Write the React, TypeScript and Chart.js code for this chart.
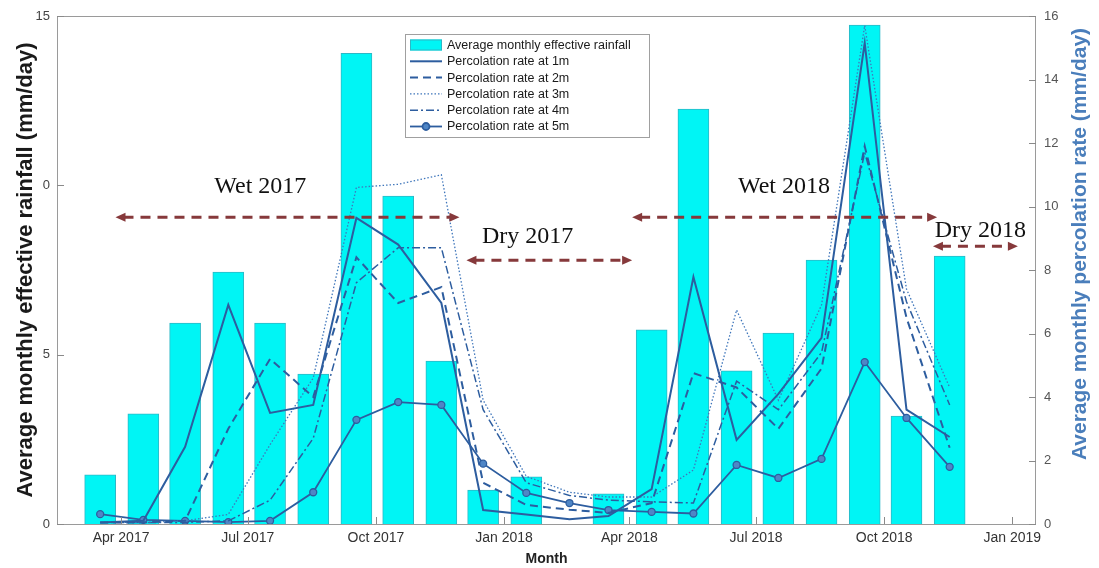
import React, { useEffect, useRef } from 'react';
import { Chart, registerables } from 'chart.js';

Chart.register(...registerables);

// ---------- data ----------
const months = [
  '2017-03', '2017-04', '2017-05', '2017-06', '2017-07', '2017-08', '2017-09',
  '2017-10', '2017-11', '2017-12', '2018-01', '2018-02', '2018-03', '2018-04',
  '2018-05', '2018-06', '2018-07', '2018-08', '2018-09', '2018-10', '2018-11',
];
const rainfall = [1.45, 3.25, 5.93, 7.44, 5.93, 4.43, 13.9, 9.68, 4.81, 1.0, 1.39, 0, 0.89, 5.73, 12.25, 4.52, 5.64, 7.79, 14.73, 3.19, 7.91];
const perc1m = [0.05, 0.1, 2.43, 6.9, 3.5, 3.75, 9.64, 8.8, 6.96, 0.44, 0.3, 0.15, 0.25, 1.1, 7.78, 2.65, 4.1, 5.86, 15.15, 3.6, 2.74];
const perc2m = [0.05, 0.05, 0.1, 3.0, 5.2, 4.0, 8.4, 6.96, 7.46, 1.3, 0.6, 0.45, 0.35, 0.66, 4.75, 4.3, 3.0, 4.9, 11.9, 6.5, 2.4];
const perc3m = [0.05, 0.05, 0.1, 0.3, 2.5, 4.6, 10.6, 10.7, 11.0, 3.9, 1.5, 1.0, 0.85, 0.85, 1.7, 6.74, 3.9, 6.9, 15.7, 7.4, 4.3];
const perc4m = [0.05, 0.05, 0.05, 0.1, 0.75, 2.7, 7.6, 8.7, 8.7, 3.6, 1.3, 0.9, 0.75, 0.7, 0.66, 4.5, 3.6, 5.4, 11.7, 7.0, 3.75];
const perc5m = [0.31, 0.13, 0.1, 0.06, 0.1, 1.0, 3.28, 3.84, 3.75, 1.9, 0.98, 0.66, 0.44, 0.38, 0.33, 1.86, 1.45, 2.05, 5.1, 3.34, 1.8];

const xTickLabels = ['Apr 2017', 'Jul 2017', 'Oct 2017', 'Jan 2018', 'Apr 2018', 'Jul 2018', 'Oct 2018', 'Jan 2019'];
const xTickDates = ['2017-04-01', '2017-07-01', '2017-10-01', '2018-01-01', '2018-04-01', '2018-07-01', '2018-10-01', '2019-01-01'];
const leftTickValues = [0, 5, 10, 15];
const leftTickLabels = ['0', '5', '0', '15'];
const rightTickValues = [0, 2, 4, 6, 8, 10, 12, 14, 16];

const seasonLabels = ['Wet 2017', 'Dry 2017', 'Wet 2018', 'Dry 2018'];
const seasonFrom = ['2017-03-28', '2017-12-05', '2018-04-03', '2018-11-05'];
const seasonTo = ['2017-11-30', '2018-04-03', '2018-11-08', '2019-01-05'];
const seasonArrowY = [9.06, 7.79, 9.06, 8.2];
const seasonTextAt = ['2017-07-10', '2018-01-18', '2018-07-21', '2018-12-09'];
const seasonTextY = [9.95, 8.47, 9.95, 8.65];

const legendLabels = [
  'Average monthly effective rainfall',
  'Percolation rate at 1m',
  'Percolation rate at 2m',
  'Percolation rate at 3m',
  'Percolation rate at 4m',
  'Percolation rate at 5m',
];

// ---------- helpers ----------
const DAY0 = Date.UTC(2017, 3, 1);
const toDay = (s: string) => (Date.parse(s + 'T00:00:00Z') - DAY0) / 864e5;
const barDays = months.map((m) => toDay(m + '-17'));
const pts = (vals: number[]) => vals.map((v, i) => ({ x: barDays[i], y: v }));

const LINE = '#2d5d9f';
const LINE_LIGHT = '#3f76bb';
const ARROW = '#86393b';
const BAR = '#00f5f5';
const BAR_EDGE = '#2cb8c6';
const SANS = '"Liberation Sans", Arial, Helvetica, sans-serif';
const SERIF = '"Liberation Serif", "Times New Roman", serif';

const lineStyles = [
  { dash: [] as number[], width: 2, color: LINE, marker: false },
  { dash: [8, 5], width: 2, color: LINE, marker: false },
  { dash: [1.5, 2], width: 1.3, color: LINE_LIGHT, marker: false },
  { dash: [8, 3, 2, 3], width: 1.5, color: LINE, marker: false },
  { dash: [] as number[], width: 1.8, color: LINE, marker: true },
];

const decor = {
  id: 'decor',
  afterDatasetsDraw(chart: any) {
    const { ctx, chartArea: a, scales } = chart;
    const sx = scales.x;
    const sy = scales.y;
    const sy1 = scales.y1;
    ctx.save();

    // season annotations
    for (let i = 0; i < seasonLabels.length; i++) {
      const x1 = sx.getPixelForValue(toDay(seasonFrom[i]));
      const x2 = sx.getPixelForValue(toDay(seasonTo[i]));
      const yy = sy.getPixelForValue(seasonArrowY[i]);
      ctx.strokeStyle = ARROW;
      ctx.fillStyle = ARROW;
      ctx.lineWidth = 3;
      ctx.setLineDash([10, 7]);
      ctx.beginPath();
      ctx.moveTo(x1 + 8, yy);
      ctx.lineTo(x2 - 8, yy);
      ctx.stroke();
      ctx.setLineDash([]);
      const head = (x: number, dir: number) => {
        ctx.beginPath();
        ctx.moveTo(x, yy);
        ctx.lineTo(x - dir * 10, yy - 4.5);
        ctx.lineTo(x - dir * 10, yy + 4.5);
        ctx.closePath();
        ctx.fill();
      };
      head(x1, -1);
      head(x2, 1);
      ctx.fillStyle = '#111';
      ctx.font = '24px ' + SERIF;
      ctx.textAlign = 'center';
      ctx.textBaseline = 'middle';
      ctx.fillText(seasonLabels[i], sx.getPixelForValue(toDay(seasonTextAt[i])), sy.getPixelForValue(seasonTextY[i]));
    }

    // box
    ctx.strokeStyle = '#9a9a9a';
    ctx.lineWidth = 1;
    ctx.strokeRect(Math.round(a.left) + 0.5, Math.round(a.top) + 0.5, Math.round(a.width) - 1, Math.round(a.height));

    // inner tick marks
    ctx.strokeStyle = '#8a8a8a';
    ctx.beginPath();
    for (const v of leftTickValues) {
      const p = Math.round(sy.getPixelForValue(v)) + 0.5;
      ctx.moveTo(a.left, p);
      ctx.lineTo(a.left + 7, p);
    }
    for (const v of rightTickValues) {
      const p = Math.round(sy1.getPixelForValue(v)) + 0.5;
      ctx.moveTo(a.right, p);
      ctx.lineTo(a.right - 7, p);
    }
    for (const d of xTickDates) {
      const p = Math.round(sx.getPixelForValue(toDay(d))) + 0.5;
      ctx.moveTo(p, a.bottom);
      ctx.lineTo(p, a.bottom - 7);
    }
    ctx.stroke();

    // legend
    const lx = a.left + 348;
    const ly = a.top + 18;
    const lw = 244;
    const rowH = 16.3;
    ctx.fillStyle = '#fff';
    ctx.fillRect(lx, ly, lw, 103);
    ctx.strokeStyle = '#a0a0a0';
    ctx.strokeRect(lx + 0.5, ly + 0.5, lw, 103);
    ctx.font = '12.5px ' + SANS;
    ctx.textAlign = 'left';
    ctx.textBaseline = 'middle';
    for (let i = 0; i < legendLabels.length; i++) {
      const ry = ly + 11 + i * rowH;
      if (i === 0) {
        ctx.fillStyle = BAR;
        ctx.fillRect(lx + 5, ry - 5.5, 32, 11);
        ctx.strokeStyle = BAR_EDGE;
        ctx.strokeRect(lx + 5.5, ry - 5, 31, 10);
      } else {
        const st = lineStyles[i - 1];
        ctx.strokeStyle = st.color;
        ctx.lineWidth = st.width;
        ctx.setLineDash(st.dash);
        ctx.beginPath();
        ctx.moveTo(lx + 5, ry);
        ctx.lineTo(lx + 37, ry);
        ctx.stroke();
        ctx.setLineDash([]);
        if (st.marker) {
          ctx.fillStyle = '#4f86c6';
          ctx.beginPath();
          ctx.arc(lx + 21, ry, 3.5, 0, Math.PI * 2);
          ctx.fill();
          ctx.stroke();
        }
        ctx.lineWidth = 1;
      }
      ctx.fillStyle = '#1a1a1a';
      ctx.fillText(legendLabels[i], lx + 42, ry + 0.5);
    }

    // right axis title (reads bottom to top)
    ctx.save();
    ctx.translate(chart.width - 19, a.top + a.height / 2 - 26);
    ctx.rotate(-Math.PI / 2);
    ctx.font = 'bold 21px ' + SANS;
    ctx.fillStyle = '#4a7ebb';
    ctx.textAlign = 'center';
    ctx.textBaseline = 'middle';
    ctx.fillText('Average monthly percolation rate (mm/day)', 0, 0);
    ctx.restore();

    ctx.restore();
  },
};

export default function App() {
  const ref = useRef<HTMLCanvasElement | null>(null);
  useEffect(() => {
    if (!ref.current) return;
    const lineSets = [perc1m, perc2m, perc3m, perc4m, perc5m].map((vals, i) => {
      const st = lineStyles[i];
      return {
        type: 'line' as const,
        label: legendLabels[i + 1],
        data: pts(vals),
        yAxisID: 'y1',
        borderColor: st.color,
        borderWidth: st.width,
        borderDash: st.dash,
        pointRadius: st.marker ? 3.5 : 0,
        pointBackgroundColor: '#4f86c6',
        pointBorderColor: LINE,
        pointBorderWidth: 1.3,
        tension: 0,
        order: 1,
      };
    });
    const chart = new Chart(ref.current, {
      type: 'bar',
      data: {
        datasets: [
          {
            type: 'bar' as const,
            label: legendLabels[0],
            data: pts(rainfall),
            yAxisID: 'y',
            backgroundColor: BAR,
            borderColor: BAR_EDGE,
            borderWidth: 1,
            barThickness: 31,
            order: 10,
          } as any,
          ...lineSets,
        ],
      },
      options: {
        responsive: false,
        animation: false,
        layout: { padding: { top: 16, left: 0, right: 0, bottom: 0 } },
        plugins: { legend: { display: false }, tooltip: { enabled: false } },
        scales: {
          x: {
            type: 'linear',
            offset: false,
            min: -46,
            max: 657,
            grid: { display: false, drawTicks: false, offset: false },
            border: { display: false },
            afterBuildTicks: (s: any) => {
              s.ticks = xTickDates.map((d) => ({ value: toDay(d) }));
            },
            ticks: {
              autoSkip: false,
              maxRotation: 0,
              padding: 6,
              color: '#333',
              font: { size: 14, family: SANS },
              callback: (_v: any, i: number) => xTickLabels[i],
            },
            title: {
              display: true,
              text: 'Month',
              color: '#222',
              font: { size: 14, weight: 'bold', family: SANS },
              padding: { top: 2, bottom: 0 },
            },
            afterFit: (s: any) => {
              s.height = 44;
            },
          },
          y: {
            position: 'left',
            min: 0,
            max: 15,
            grid: { display: false, drawTicks: false },
            border: { display: false },
            afterBuildTicks: (s: any) => {
              s.ticks = leftTickValues.map((v) => ({ value: v }));
            },
            ticks: {
              padding: 7,
              color: '#444',
              font: { size: 13, family: SANS },
              callback: (_v: any, i: number) => leftTickLabels[i],
            },
            title: {
              display: true,
              text: 'Average monthly effective rainfall (mm/day)',
              color: '#1a1a1a',
              font: { size: 22, weight: 'bold', family: SANS },
              padding: { top: 13, bottom: 0 },
            },
            afterFit: (s: any) => {
              s.width = 57;
            },
          },
          y1: {
            position: 'right',
            min: 0,
            max: 16,
            grid: { display: false, drawOnChartArea: false, drawTicks: false },
            border: { display: false },
            afterBuildTicks: (s: any) => {
              s.ticks = rightTickValues.map((v) => ({ value: v }));
            },
            ticks: {
              padding: 8,
              color: '#555',
              font: { size: 13, family: SANS },
            },
            afterFit: (s: any) => {
              s.width = 63;
            },
          },
        },
      } as any,
      plugins: [decor],
    });
    return () => chart.destroy();
  }, []);

  return (
    <div style={{ position: 'fixed', left: 0, top: 0, width: 1099, height: 568, background: '#fff' }}>
      <canvas ref={ref} width={1099} height={568} />
    </div>
  );
}
